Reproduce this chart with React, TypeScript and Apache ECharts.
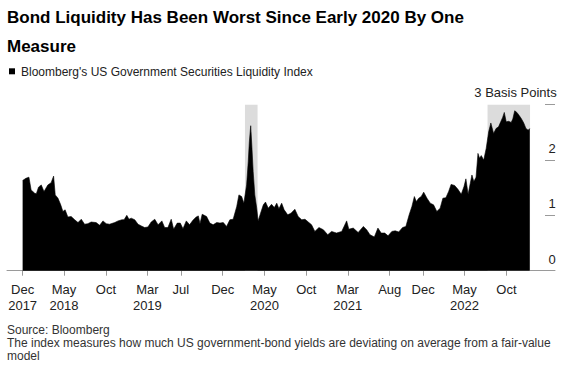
import React, { useEffect, useRef } from "react";
import * as echarts from "echarts";

const FONT = "'Liberation Sans', Arial, Helvetica, sans-serif";

const titleText = "Bond Liquidity Has Been Worst Since Early 2020 By One\nMeasure";
const legendText = "Bloomberg's US Government Securities Liquidity Index";
const unitText = "3 Basis Points";
const footerText =
  "Source: Bloomberg\nThe index measures how much US government-bond yields are deviating on average from a fair-value\nmodel";

const tickDates = [
  "2017-12-01", "2018-05-01", "2018-10-01", "2019-03-01", "2019-07-01", "2019-12-01",
  "2020-05-01", "2020-10-01", "2021-03-01", "2021-08-01", "2021-12-01", "2022-05-01", "2022-10-01",
];
const tickLabels = [
  "Dec\n2017", "May\n2018", "Oct", "Mar\n2019", "Jul", "Dec",
  "May\n2020", "Oct", "Mar\n2021", "Aug", "Dec", "May\n2022", "Oct",
];
const yTicks = [0, 1, 2, 3];

const shaded = [
  ["2020-02-20", "2020-04-06"],
  ["2022-07-24", "2022-12-26"],
];

const data2018: [string, number][] = [
  ["2017-12-01", 1.63], ["2017-12-13", 1.67], ["2017-12-24", 1.69], ["2018-01-01", 1.46],
  ["2018-01-14", 1.4], ["2018-01-20", 1.39], ["2018-01-28", 1.51], ["2018-02-07", 1.55],
  ["2018-02-17", 1.43], ["2018-03-03", 1.55], ["2018-03-15", 1.59], ["2018-03-24", 1.71],
  ["2018-03-30", 1.37], ["2018-04-09", 1.31], ["2018-04-19", 1.19], ["2018-04-27", 1.07],
  ["2018-05-05", 1.1], ["2018-05-15", 0.97], ["2018-05-27", 0.98], ["2018-06-09", 0.92],
  ["2018-06-21", 0.87], ["2018-07-03", 0.93], ["2018-07-15", 0.84], ["2018-07-27", 0.85],
  ["2018-08-08", 0.88], ["2018-08-26", 0.87], ["2018-09-08", 0.82], ["2018-09-20", 0.9],
  ["2018-10-02", 0.85], ["2018-10-14", 0.84], ["2018-11-02", 0.87], ["2018-11-14", 0.9],
  ["2018-11-28", 0.92], ["2018-12-06", 0.92], ["2018-12-16", 1.0], ["2018-12-24", 0.93],
];
const data2019: [string, number][] = [
  ["2019-01-01", 0.95], ["2019-01-14", 0.92], ["2019-01-26", 0.84], ["2019-02-07", 0.81],
  ["2019-02-19", 0.78], ["2019-03-03", 0.79], ["2019-03-15", 0.88], ["2019-03-28", 0.93],
  ["2019-04-09", 0.83], ["2019-04-23", 0.9], ["2019-05-03", 0.78], ["2019-05-15", 0.78],
  ["2019-05-27", 0.93], ["2019-06-05", 0.75], ["2019-06-18", 0.86], ["2019-06-29", 0.86],
  ["2019-07-09", 0.76], ["2019-07-21", 0.9], ["2019-08-02", 0.83], ["2019-08-14", 0.91],
  ["2019-08-26", 0.97], ["2019-09-03", 0.99], ["2019-09-09", 0.85], ["2019-09-17", 1.02],
  ["2019-10-03", 0.98], ["2019-10-15", 0.86], ["2019-10-27", 0.83], ["2019-11-09", 0.87],
  ["2019-11-21", 0.86], ["2019-12-03", 0.87], ["2019-12-15", 0.8], ["2019-12-27", 0.92],
];
const data2020: [string, number][] = [
  ["2020-01-08", 0.93], ["2020-01-21", 1.16], ["2020-01-29", 1.37], ["2020-02-08", 1.34],
  ["2020-02-16", 1.22], ["2020-02-26", 1.55], ["2020-03-03", 1.97], ["2020-03-07", 2.33],
  ["2020-03-12", 2.62], ["2020-03-16", 2.27], ["2020-03-21", 1.79], ["2020-03-27", 1.37],
  ["2020-04-03", 1.13], ["2020-04-08", 0.9], ["2020-04-17", 1.04], ["2020-04-27", 1.19],
  ["2020-05-05", 1.24], ["2020-05-15", 1.13], ["2020-05-27", 1.2], ["2020-06-06", 1.14],
  ["2020-06-15", 1.22], ["2020-06-23", 1.12], ["2020-07-03", 1.22], ["2020-07-12", 1.1],
  ["2020-07-25", 1.01], ["2020-08-06", 1.04], ["2020-08-20", 1.11], ["2020-09-01", 0.98],
  ["2020-09-14", 0.92], ["2020-09-26", 0.93], ["2020-10-08", 0.88], ["2020-10-20", 0.83],
  ["2020-11-01", 0.71], ["2020-11-16", 0.78], ["2020-12-02", 0.74], ["2020-12-18", 0.65],
];
const data2021: [string, number][] = [
  ["2021-01-01", 0.71], ["2021-01-19", 0.68], ["2021-02-07", 0.71], ["2021-02-25", 0.9],
  ["2021-03-05", 0.75], ["2021-03-21", 0.77], ["2021-04-08", 0.69], ["2021-04-27", 0.8],
  ["2021-05-09", 0.74], ["2021-05-21", 0.65], ["2021-06-06", 0.61], ["2021-06-19", 0.77],
  ["2021-07-01", 0.68], ["2021-07-14", 0.68], ["2021-07-26", 0.63], ["2021-08-09", 0.71],
  ["2021-08-21", 0.72], ["2021-09-03", 0.7], ["2021-09-17", 0.78], ["2021-09-29", 0.8],
  ["2021-10-11", 1.01], ["2021-10-21", 1.16], ["2021-10-30", 1.34], ["2021-11-06", 1.25],
  ["2021-11-15", 1.31], ["2021-11-24", 1.34], ["2021-12-03", 1.42], ["2021-12-15", 1.31],
  ["2021-12-27", 1.22],
];
const data2022: [string, number][] = [
  ["2022-01-08", 1.19], ["2022-01-20", 1.07], ["2022-02-01", 1.13], ["2022-02-11", 1.31],
  ["2022-02-22", 1.32], ["2022-03-04", 1.43], ["2022-03-13", 1.56], ["2022-03-26", 1.54],
  ["2022-04-07", 1.47], ["2022-04-19", 1.38], ["2022-04-29", 1.52], ["2022-05-06", 1.66],
  ["2022-05-14", 1.38], ["2022-05-22", 1.58], ["2022-05-28", 1.73], ["2022-06-04", 1.61],
  ["2022-06-12", 1.69], ["2022-06-19", 2.12], ["2022-06-25", 2.03], ["2022-07-01", 2.08],
  ["2022-07-10", 2.0], ["2022-07-19", 2.21], ["2022-07-28", 2.51], ["2022-08-05", 2.67],
  ["2022-08-15", 2.48], ["2022-08-24", 2.57], ["2022-09-02", 2.6], ["2022-09-10", 2.69],
  ["2022-09-17", 2.77], ["2022-09-23", 2.86], ["2022-09-30", 2.69], ["2022-10-09", 2.7],
  ["2022-10-18", 2.68], ["2022-10-24", 2.74], ["2022-10-31", 2.89], ["2022-11-08", 2.86],
  ["2022-11-17", 2.8], ["2022-11-24", 2.75], ["2022-12-03", 2.67], ["2022-12-11", 2.57],
  ["2022-12-19", 2.54], ["2022-12-25", 2.57],
];

const axisMin = "2017-10-05";
const axisMax = "2023-03-27";

function ts(s: string): number {
  const [y, m, d] = s.split("-").map(Number);
  return Date.UTC(y, m - 1, d);
}

export default function App() {
  const ref = useRef<HTMLDivElement>(null);

  useEffect(() => {
    if (!ref.current) return;
    const chart = echarts.init(ref.current, undefined, { renderer: "svg" });
    const all = [...data2018, ...data2019, ...data2020, ...data2021, ...data2022];
    const seriesData = all.map(([d, v]) => [ts(d), v]);
    const tickTimes = tickDates.map(ts);

    const option: any = {
      animation: false,
      grid: { left: 7, right: 16, top: 104.7, bottom: 97.3, containLabel: false },
      xAxis: {
        type: "value",
        min: ts(axisMin),
        max: ts(axisMax),
        axisLine: { show: true, onZero: false, lineStyle: { color: "#9a9a9a", width: 1 } },
        axisTick: { show: true, customValues: tickTimes, length: 5, lineStyle: { color: "#9a9a9a" } },
        axisLabel: {
          customValues: tickTimes,
          formatter: (v: number) => {
            const i = tickTimes.indexOf(v);
            return i >= 0 ? tickLabels[i] : "";
          },
          margin: 11,
          lineHeight: 16,
          fontSize: 13,
          color: "#222",
          fontFamily: FONT,
          hideOverlap: false,
          showMinLabel: true,
          showMaxLabel: true,
        },
        splitLine: { show: false },
      },
      yAxis: {
        type: "value",
        position: "right",
        min: yTicks[0],
        max: yTicks[yTicks.length - 1],
        interval: 1,
        axisLine: { show: false },
        axisTick: { show: true, inside: true, length: 10, lineStyle: { color: "#9a9a9a" } },
        axisLabel: {
          formatter: (v: number) => (v === 3 ? "" : String(v)),
          margin: -3,
          align: "center",
          verticalAlign: "bottom",
          padding: [0, 0, 5, 0],
          fontSize: 13,
          color: "#222",
          fontFamily: FONT,
        },
        splitLine: { show: false },
      },
      series: [
        {
          type: "line",
          data: [],
          z: 1,
          markArea: {
            silent: true,
            itemStyle: { color: "#dcdcdc" },
            data: shaded.map(([a, b]) => [
              { xAxis: ts(a), yAxis: 0 },
              { xAxis: ts(b), yAxis: 3 },
            ]),
          },
        },
        {
          type: "line",
          data: seriesData,
          z: 2,
          symbol: "none",
          showSymbol: false,
          lineStyle: { color: "#000", width: 0.6 },
          areaStyle: { color: "#000", opacity: 1 },
        },
      ],
      graphic: [
        {
          type: "text",
          left: 7,
          top: 3.5,
          style: {
            text: titleText,
            fontSize: 17,
            fontWeight: "bold",
            fontFamily: FONT,
            lineHeight: 28.5,
            fill: "#000",
          },
        },
        {
          type: "rect",
          shape: { x: 9, y: 68.3, width: 6, height: 6 },
          style: { fill: "#000" },
        },
        {
          type: "text",
          x: 21,
          y: 71.5,
          style: {
            text: legendText,
            fontSize: 12,
            fontFamily: FONT,
            fill: "#222",
            verticalAlign: "middle",
            align: "left",
          },
        },
        {
          type: "text",
          x: 556.7,
          y: 92,
          style: {
            text: unitText,
            fontSize: 13,
            fontFamily: FONT,
            fill: "#222",
            verticalAlign: "middle",
            align: "right",
          },
        },
        {
          type: "text",
          left: 7,
          top: 323,
          style: {
            text: footerText,
            fontSize: 12,
            fontFamily: FONT,
            lineHeight: 13,
            fill: "#333",
          },
        },
      ],
    };
    chart.setOption(option);
    return () => chart.dispose();
  }, []);

  return (
    <div
      ref={ref}
      style={{ position: "absolute", left: 0, top: 0, width: 571, height: 368, background: "#fff" }}
    />
  );
}
